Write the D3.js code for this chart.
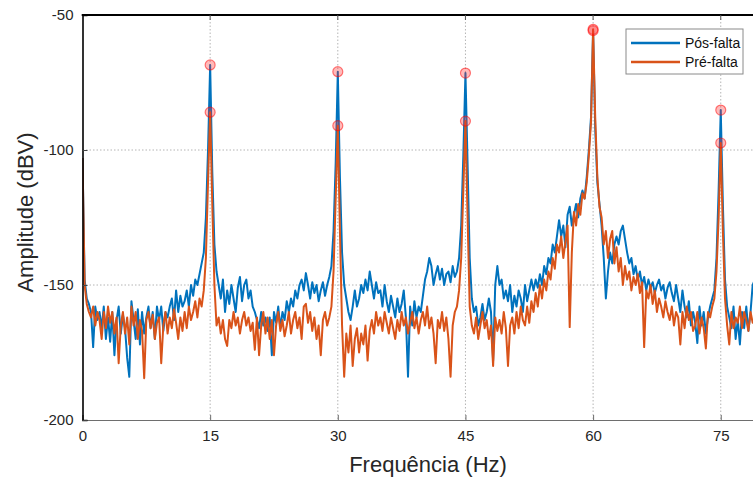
<!DOCTYPE html>
<html>
<head>
<meta charset="utf-8">
<script src="https://cdn.jsdelivr.net/npm/d3@7/dist/d3.min.js"></script>
<style>
  html, body { margin: 0; padding: 0; background: #fff; }
  svg { display: block; }
  text { font-family: "Liberation Sans", Arial, Helvetica, sans-serif; }
</style>
</head>
<body>
<svg id="chart" width="753" height="479"></svg>
<script>
// ---- data ----
const freqStep = 0.25; // Hz between samples, starting at 0 Hz
const xTicks = [0, 15, 30, 45, 60, 75];
const yTicks = [-200, -150, -100, -50];
const seriesNames = ["Pós-falta", "Pré-falta"];
const peakFreqs = [15, 30, 45, 60, 75];

const posFalta = [
  -103,-148,-155,-157, -160,-173,-158,-163, -160,-166,-158,-170, -162,-171,-160,-176, -163,-158,-168,-161,
  -166,-177,-184,-156, -163,-170,-159,-172, -160,-168,-162,-158, -166,-160,-170,-158, -163,-158,-167,-160,
  -162,-158,-155,-163, -152,-160,-154,-158, -156,-152,-158,-150, -154,-148,-150,-146, -142,-138,-125,-100,
  -68.5,-108,-135,-145, -150,-155,-148,-160, -152,-157,-150,-155, -160,-151,-147,-156, -150,-148,-155,-152,
  -158,-160,-163,-166, -160,-165,-162,-167, -162,-176,-160,-164, -158,-166,-160,-163, -156,-160,-155,-158,
  -152,-155,-150,-148, -152,-145.6,-150,-155, -149,-153,-150,-156, -152,-149,-154,-150, -147,-143,-130,-105,
  -71,-110,-138,-150, -155,-160,-163,-158, -152,-158,-155,-150, -153,-148,-152,-145, -150,-155,-149,-153,
  -152,-158,-150,-156, -160,-154,-158,-162, -155,-160,-157,-152, -162,-184,-158,-165, -156,-162,-158,-160,
  -154,-148,-145,-140, -143,-150,-146,-143, -148,-144,-150,-146, -145,-149,-143,-147, -145,-140,-128,-102,
  -71.5,-105,-140,-155, -160,-158,-165,-162, -157,-163,-160,-155, -160,-178,-150,-143, -150,-148,-155,-152,
  -156,-150,-160,-154, -158,-152,-155,-160, -150,-156,-152,-148, -152,-148,-151,-146, -150,-143,-146,-140,
  -142,-135,-138,-132, -126,-132,-128,-136, -124,-121,-128,-124, -120,-125,-118,-115, -118,-110,-100,-88,
  -55.8,-92,-112,-120, -128,-140,-155,-145, -138,-142,-135,-132, -135,-130,-128,-133, -138,-142,-140,-146,
  -143,-148,-145,-150, -147,-152,-148,-151, -149,-153,-150,-148, -152,-150,-155,-151, -149,-153,-156,-150,
  -155,-160,-152,-158, -162,-156,-165,-160, -164,-171.5,-158,-165, -160,-168,-162,-158, -155,-152,-140,-115,
  -85.2,-120,-148,-158, -162,-166,-158,-170, -163,-172,-160,-166, -158,-167,-160,-150, -148,-155,-152,-150,
  -150
];

const preFalta = [
  -103,-150,-157,-160, -162,-158,-165,-160, -163,-170,-160,-166, -158,-164,-160,-168, -162,-179,-165,-160,
  -168,-162,-172,-158, -165,-160,-170,-163, -167,-184.5,-163,-160, -166,-161,-170,-164, -162,-179,-165,-160,
  -168,-162,-166,-159, -164,-170,-162,-167, -160,-166,-158,-163, -160,-156,-162,-155, -158,-152,-140,-112,
  -86,-120,-150,-165, -162,-168,-163,-170, -172.6,-163,-166,-160, -165,-162,-168,-163, -160,-165,-162,-167,
  -164,-174,-162,-176, -165,-160,-168,-162, -170,-163,-176,-165, -160,-167,-163,-169, -165,-160,-168,-163,
  -160,-166,-162,-170, -158,-157,-164,-160, -167,-162,-170,-165, -176,-163,-160,-165, -162,-158,-145,-118,
  -91,-130,-165,-184, -168,-175,-165,-180, -170,-166,-175,-168, -172,-165,-178,-167, -163,-168,-160,-165,
  -162,-167,-160,-164, -168,-162,-166,-170, -163,-167,-160,-165, -162,-168,-164,-160, -166,-162,-168,-163,
  -160,-165,-158,-166, -162,-168,-179,-163, -166,-160,-167,-162, -170,-184,-165,-160, -158,-152,-140,-115,
  -89.3,-125,-158,-165, -168,-162,-170,-165, -160,-166,-163,-170, -165,-180,-162,-167, -163,-168,-160,-166,
  -180,-165,-162,-168, -160,-166,-158,-163, -165,-158,-164,-156, -160,-153,-158,-150, -155,-148,-152,-145,
  -148,-140,-144,-135, -138,-132,-140,-134, -128,-165.6,-138,-123, -128,-120,-124,-116, -118,-112,-102,-90,
  -55.3,-88,-110,-121, -125,-135,-130,-140, -133,-130,-142,-136, -145,-140,-150,-143, -148,-145,-152,-147,
  -150,-146,-153,-149, -173,-152,-155,-150, -157,-152,-160,-155, -158,-162,-156,-160, -163,-158,-165,-160,
  -162,-172,-160,-166, -158,-163,-160,-167, -165,-160,-168,-162, -166,-173.5,-160,-162, -158,-155,-145,-125,
  -97.4,-130,-155,-165, -172,-160,-166,-162, -164,-158,-166,-160, -163,-167,-160,-164, -162,-166,-160,-165,
  -163
];

// ---- layout ----
const svg = d3.select("#chart");
const pL = 82.5, pR = 763.3, pT = 15, pB = 420;
const x = d3.scaleLinear().domain([0, 80]).range([pL, pR]);
const y = d3.scaleLinear().domain([-200, -50]).range([pB, pT]);
const colors = ["#0072BD", "#D95319"];
const fmt = d => String(d);

svg.append("defs").append("clipPath").attr("id", "clip")
  .append("rect").attr("x", pL).attr("y", pT).attr("width", pR - pL).attr("height", pB - pT);

// grid
const grid = svg.append("g");
grid.selectAll(".vg").data(xTicks.filter(d => d > 0)).join("line")
  .attr("x1", d => x(d)).attr("x2", d => x(d)).attr("y1", pT).attr("y2", pB)
  .attr("stroke", "#b4b4b4").attr("stroke-width", 1).attr("stroke-dasharray", "1.5,2");
grid.selectAll(".hg").data(yTicks.filter(d => d > -200 && d < -50)).join("line")
  .attr("x1", pL).attr("x2", pR).attr("y1", d => y(d)).attr("y2", d => y(d))
  .attr("stroke", "#b4b4b4").attr("stroke-width", 1).attr("stroke-dasharray", "1.5,2");

// lines
const line = d3.line().x((d, i) => x(i * freqStep)).y(d => y(d));
const plot = svg.append("g").attr("clip-path", "url(#clip)");
[posFalta, preFalta].forEach((s, k) => {
  plot.append("path").datum(s).attr("d", line)
    .attr("fill", "none").attr("stroke", colors[k]).attr("stroke-width", 2)
    .attr("stroke-linejoin", "round");
});

// peak markers
[posFalta, preFalta].forEach(s => {
  plot.append("g").selectAll("circle").data(peakFreqs).join("circle")
    .attr("cx", d => x(d)).attr("cy", d => y(s[Math.round(d / freqStep)]))
    .attr("r", 5).attr("fill", "rgba(255,40,40,0.32)").attr("stroke", "rgba(255,0,0,0.5)").attr("stroke-width", 1.2);
});

// axes
const xAxis = d3.axisBottom(x).tickValues(xTicks).tickSize(-5).tickPadding(10).tickFormat(fmt);
const gx = svg.append("g").attr("transform", `translate(0,${pB})`).call(xAxis);
gx.select(".domain").attr("stroke", "#6e6e6e");
gx.selectAll(".tick line").attr("stroke", "#6e6e6e");
gx.selectAll("text").attr("font-size", 15).attr("fill", "#262626").attr("font-family", "Liberation Sans, Arial, sans-serif");

const yAxis = d3.axisLeft(y).tickValues(yTicks).tickSize(-5).tickPadding(9).tickFormat(fmt);
const gy = svg.append("g").attr("transform", `translate(${pL},0)`).call(yAxis);
gy.select(".domain").attr("stroke", "#000").attr("stroke-width", 1.6);
gy.selectAll(".tick line").attr("stroke", "#444");
gy.selectAll("text").attr("font-size", 15).attr("fill", "#262626").attr("font-family", "Liberation Sans, Arial, sans-serif");

// top border
svg.append("line").attr("x1", pL - 0.8).attr("x2", pR).attr("y1", pT).attr("y2", pT)
  .attr("stroke", "#000").attr("stroke-width", 2);
// top ticks
svg.append("g").selectAll("line").data(xTicks.filter(d => d > 0)).join("line")
  .attr("x1", d => x(d)).attr("x2", d => x(d)).attr("y1", pT).attr("y2", pT + 5)
  .attr("stroke", "#555");

// axis labels
svg.append("text").attr("x", 428).attr("y", 472).attr("text-anchor", "middle")
  .attr("font-size", 22).attr("fill", "#262626").text("Frequência (Hz)");
svg.append("text").attr("transform", "translate(33,212.5) rotate(-90)").attr("text-anchor", "middle")
  .attr("font-size", 22).attr("fill", "#262626").text("Amplitude (dBV)");

// legend
const lg = svg.append("g");
lg.append("rect").attr("x", 626).attr("y", 29).attr("width", 117).attr("height", 45)
  .attr("fill", "#fff").attr("stroke", "#8a8a8a").attr("stroke-width", 1);
seriesNames.forEach((n, k) => {
  const yy = 43 + k * 19;
  lg.append("line").attr("x1", 631).attr("x2", 680).attr("y1", yy).attr("y2", yy)
    .attr("stroke", colors[k]).attr("stroke-width", 2.5);
  lg.append("text").attr("x", 685).attr("y", yy + 5).attr("font-size", 14).attr("fill", "#111").text(n);
});
</script>
</body>
</html>
